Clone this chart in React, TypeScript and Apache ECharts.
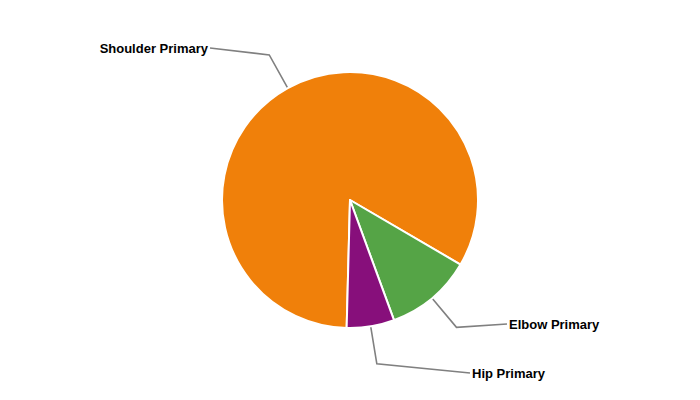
import React, { useEffect, useRef } from "react";
import * as echarts from "echarts";

// Share of primary joint sites
const categories = ["Shoulder Primary", "Elbow Primary", "Hip Primary"];
const values = [83, 11, 6];
const colors = ["#F0800A", "#55A446", "#870F7B"];

// Where each label's leader line ends, and which side the text sits on
const labelAnchors: [number, number][] = [
  [210, 48],
  [507, 324],
  [470, 373],
];
const labelAlign = ["right", "left", "left"];

export default function App() {
  const ref = useRef<HTMLDivElement>(null);

  useEffect(() => {
    if (!ref.current) return;
    const chart = echarts.init(ref.current, null, { renderer: "svg" });

    chart.setOption({
      animation: false,
      backgroundColor: "#ffffff",
      series: [
        {
          type: "pie",
          center: [350, 200],
          radius: [0, 128],
          startAngle: 268.5,
          clockwise: true,
          data: categories.map((name, i) => ({
            name,
            value: values[i],
            itemStyle: { color: colors[i] },
          })),
          itemStyle: { borderColor: "#ffffff", borderWidth: 2 },
          emphasis: { disabled: true },
          label: {
            show: true,
            position: "outside",
            formatter: "{b}",
            color: "#000000",
            fontFamily: "Liberation Sans, Arial, sans-serif",
            fontWeight: "bold",
            fontSize: 13,
          },
          labelLine: {
            show: true,
            length: 38,
            length2: 20,
            smooth: false,
            lineStyle: { color: "#808080", width: 1.6 },
          },
          labelLayout: (params: any) => {
            const i = params.dataIndex;
            const [ax, ay] = labelAnchors[i];
            const pts = params.labelLinePoints || [];
            const right = labelAlign[i] === "right";
            return {
              x: right ? ax - 2 : ax + 2,
              y: ay,
              align: labelAlign[i],
              verticalAlign: "middle",
              labelLinePoints: pts.length >= 2 ? [pts[0], pts[1], [ax, ay]] : undefined,
            };
          },
        },
      ],
    });

    return () => chart.dispose();
  }, []);

  return (
    <div
      ref={ref}
      style={{ position: "fixed", left: 0, top: 0, width: 700, height: 400 }}
    />
  );
}
